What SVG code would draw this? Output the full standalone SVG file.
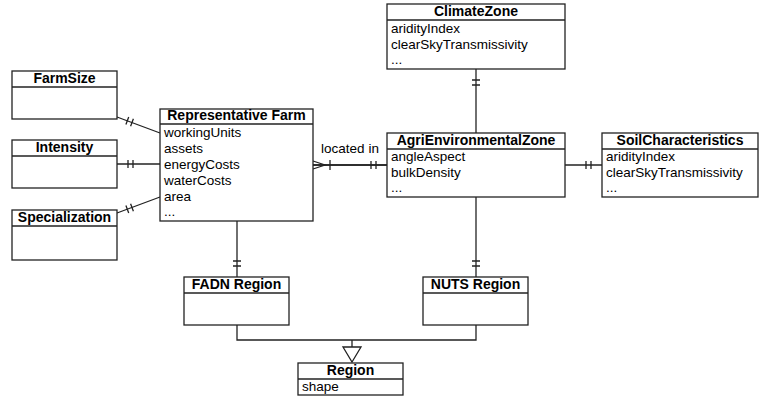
<svg xmlns="http://www.w3.org/2000/svg" width="760" height="399" viewBox="0 0 760 399">
<style>
.box{fill:#fff;stroke:#222;stroke-width:1.3}
.sep{stroke:#222;stroke-width:1.3}
.hd{font-family:"Liberation Sans",Arial,Helvetica,sans-serif;font-size:14px;font-weight:bold;text-anchor:middle;fill:#000}
.at{font-family:"Liberation Sans",Arial,Helvetica,sans-serif;font-size:13.5px;fill:#000}
.ln{fill:none;stroke:#222;stroke-width:1.3}
.one{marker-start:url(#one)}
</style>
<defs>
<marker id="one" markerUnits="userSpaceOnUse" viewBox="0 -6 20 12" refX="0" refY="0" markerWidth="20" markerHeight="12" orient="auto" overflow="visible">
<path d="M11,-4V4M16,-4V4" stroke="#222" stroke-width="1.3" fill="none"/>
</marker>
<marker id="many" markerUnits="userSpaceOnUse" viewBox="0 -6 20 12" refX="0" refY="0" markerWidth="20" markerHeight="12" orient="auto" overflow="visible">
<path d="M0,-4L12,0L0,4M17,-5V5" stroke="#222" stroke-width="1.3" fill="none"/>
</marker>
</defs>
<rect width="760" height="399" fill="#fff"/>
<g id="connectors">
<path class="ln one" d="M117,117L160,133"/>
<path class="ln one" d="M117,164H160"/>
<path class="ln one" d="M117,213L160,197"/>
<path class="ln" d="M313,165H387" marker-start="url(#many)"/>
<path class="ln one" d="M387,165H313"/>
<path class="ln one" d="M476,69V133"/>
<path class="ln one" d="M602,165H565"/>
<path class="ln one" d="M237,277V221"/>
<path class="ln one" d="M476,277V197"/>
<path class="ln" d="M237,325V340H476V325M352,340V347"/>
<path d="M343,347H361L352,362Z" fill="#fff" stroke="#222" stroke-width="1.3"/>
<text class="at" x="350" y="153" text-anchor="middle">located in</text>
</g>
<g id="FarmSize">
<rect class="box" x="12" y="71" width="105" height="48"/>
<line class="sep" x1="12" y1="87" x2="117" y2="87"/>
<text class="hd" x="64.5" y="83">FarmSize</text>
</g>
<g id="Intensity">
<rect class="box" x="12" y="140" width="105" height="48"/>
<line class="sep" x1="12" y1="156" x2="117" y2="156"/>
<text class="hd" x="64.5" y="152">Intensity</text>
</g>
<g id="Specialization">
<rect class="box" x="12" y="210" width="105" height="50"/>
<line class="sep" x1="12" y1="226" x2="117" y2="226"/>
<text class="hd" x="64.5" y="222">Specialization</text>
</g>
<g id="RepresentativeFarm">
<rect class="box" x="160" y="109" width="153" height="112"/>
<line class="sep" x1="160" y1="124" x2="313" y2="124"/>
<text class="hd" x="236.5" y="120">Representative Farm</text>
<text class="at" x="164" y="137">workingUnits</text>
<text class="at" x="164" y="153">assets</text>
<text class="at" x="164" y="169">energyCosts</text>
<text class="at" x="164" y="185">waterCosts</text>
<text class="at" x="164" y="201">area</text>
<text class="at" x="164" y="216">...</text>
</g>
<g id="ClimateZone">
<rect class="box" x="387" y="4" width="178" height="65"/>
<line class="sep" x1="387" y1="20" x2="565" y2="20"/>
<text class="hd" x="476" y="16">ClimateZone</text>
<text class="at" x="391" y="33">aridityIndex</text>
<text class="at" x="391" y="49">clearSkyTransmissivity</text>
<text class="at" x="391" y="64">...</text>
</g>
<g id="AgriEnvironmentalZone">
<rect class="box" x="387" y="133" width="178" height="64"/>
<line class="sep" x1="387" y1="149" x2="565" y2="149"/>
<text class="hd" x="476" y="145">AgriEnvironmentalZone</text>
<text class="at" x="391" y="161">angleAspect</text>
<text class="at" x="391" y="177">bulkDensity</text>
<text class="at" x="391" y="192">...</text>
</g>
<g id="SoilCharacteristics">
<rect class="box" x="602" y="133" width="156" height="64"/>
<line class="sep" x1="602" y1="149" x2="758" y2="149"/>
<text class="hd" x="680" y="145">SoilCharacteristics</text>
<text class="at" x="606" y="161">aridityIndex</text>
<text class="at" x="606" y="177">clearSkyTransmissivity</text>
<text class="at" x="606" y="192">...</text>
</g>
<g id="FADNRegion">
<rect class="box" x="184" y="277" width="105" height="48"/>
<line class="sep" x1="184" y1="293" x2="289" y2="293"/>
<text class="hd" x="236.5" y="289">FADN Region</text>
</g>
<g id="NUTSRegion">
<rect class="box" x="423" y="277" width="105" height="48"/>
<line class="sep" x1="423" y1="293" x2="528" y2="293"/>
<text class="hd" x="475.5" y="289">NUTS Region</text>
</g>
<g id="Region">
<rect class="box" x="298" y="363" width="105" height="32"/>
<line class="sep" x1="298" y1="379" x2="403" y2="379"/>
<text class="hd" x="350.5" y="375">Region</text>
<text class="at" x="302" y="391">shape</text>
</g>
</svg>
